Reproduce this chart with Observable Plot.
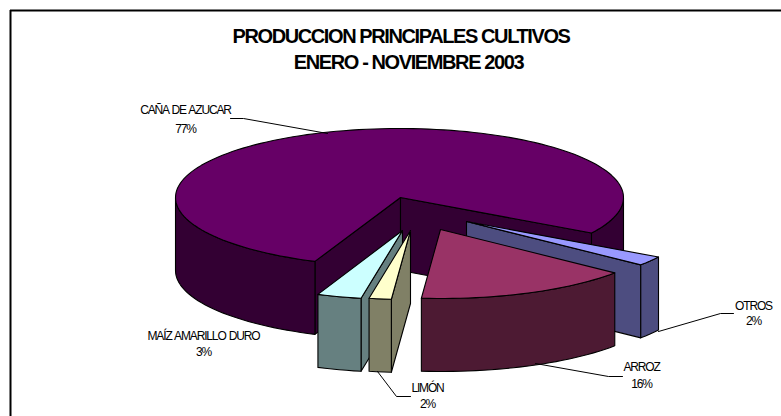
<!DOCTYPE html>
<html><head><meta charset="utf-8">
<style>html,body{margin:0;padding:0;background:#fff}svg{display:block}</style>
<script src="https://cdn.jsdelivr.net/npm/d3@7"></script>
<script src="https://cdn.jsdelivr.net/npm/@observablehq/plot@0.6"></script>
</head><body><div id="chart"></div>
<script>
// Data (clockwise from the first slice after the pie's start angle)
const categories = ["OTROS", "ARROZ", "LIMÓN", "MAÍZ AMARILLO DURO", "CAÑA DE AZUCAR"];
const values = [2.2, 15.55, 1.6, 3.2, 77.45];
const titleLines = ["PRODUCCION PRINCIPALES CULTIVOS", "ENERO - NOVIEMBRE 2003"];

// Styles
const topColors = ["#9999ff", "#993366", "#ffffcc", "#ccffff", "#660066"];
const sideColors = ["#4d4d80", "#4d1a33", "#808066", "#668080", "#330033"];

// Layout: pie projection, in the chart's pixel-like scale units
const pie = {cx: 399, cy: 197, rx: 224, ry: 69, depth: 73, start: 31};
const explodeX = [67, 41, 11, 3, 1];
const explodeY = [24, 32, 33, 33, 0];
const drawOrder = [4, 0, 3, 2, 1];
const titleX = [400.5, 408];
const titleY = [36.5, 62.5];
const labelX = [753, 641, 427, 203, 185];
const labelY = [306, 367, 388, 336, 110];
const percentY = [321, 384, 404, 352, 129];
const leaders = [
  [[658, 331], [720, 313], [733, 313]],
  [[535, 363], [608, 376], [622, 376]],
  [[377, 371], [396, 396], [410, 396]],
  [],
  [[230, 118], [243, 118], [327, 133]]
];

const total = d3.sum(values);
const bounds = d3.cumsum(values).map(v => pie.start + v / total * 360);
const rad = d => d * Math.PI / 180;

function pt(i, deg, z = 0) {
  return {
    x: pie.cx + (i === 4 ? 0 : explodeX[i]) + pie.rx * Math.cos(rad(deg)),
    y: pie.cy + explodeY[i] + pie.ry * Math.sin(rad(deg)) + z
  };
}
function apex(i, z = 0) {
  return {x: pie.cx + explodeX[i], y: pie.cy + explodeY[i] + z};
}
function arc(i, a, b, z = 0) {
  const n = Math.max(1, Math.ceil(Math.abs(b - a) / 2));
  return d3.range(n + 1).map(k => pt(i, a + (b - a) * k / n, z));
}
const poly = (pts, fill) => Plot.line(pts, {
  x: "x", y: "y", fill, stroke: "#000", strokeWidth: 1.1, curve: "linear-closed"
});

function sliceMarks(i) {
  const a = i === 0 ? pie.start : bounds[i - 1];
  const b = bounds[i];
  const side = sideColors[i];
  const out = [];
  const wall = deg => poly([apex(i), pt(i, deg), pt(i, deg, pie.depth), apex(i, pie.depth)], side);
  if (Math.cos(rad(a)) < 0) out.push(wall(a));
  if (Math.cos(rad(b)) > 0) out.push(wall(b));
  // Outer rim: only the front half of the ellipse (0..180 mod 360) faces the viewer
  for (const k of [0, 1]) {
    const lo = Math.max(a, k * 360), hi = Math.min(b, k * 360 + 180);
    if (hi > lo) out.push(poly([...arc(i, lo, hi), ...arc(i, hi, lo, pie.depth)], side));
  }
  out.push(poly([apex(i), ...arc(i, a, b)], topColors[i]));
  return out;
}

const labels = categories.map((name, i) => ({
  name, pct: Math.round(values[i]) + "%", x: labelX[i], y: labelY[i], py: percentY[i]
}));

const chart = Plot.plot({
  width: 781, height: 416,
  margin: 0,
  x: {domain: [0, 781], range: [0, 781], axis: null},
  y: {domain: [0, 416], range: [0, 416], axis: null},
  style: {fontFamily: "'Liberation Sans', Arial, sans-serif", background: "#fff"},
  marks: [
    Plot.ruleY([10], {x1: 10, x2: 781, stroke: "#000", strokeWidth: 2}),
    Plot.ruleX([10], {y1: 10, y2: 416, stroke: "#000", strokeWidth: 2}),
    ...drawOrder.flatMap(sliceMarks),
    ...leaders.filter(l => l.length).map(l => Plot.line(l.map(([x, y]) => ({x, y})), {x: "x", y: "y", stroke: "#000", strokeWidth: 1})),
    Plot.text(titleLines.map((t, i) => ({t, x: titleX[i], y: titleY[i]})), {
      x: "x", y: "y", text: "t", fontSize: 20, fontWeight: "bold", fill: "#000", textAnchor: "middle"
    }),
    Plot.text(labels, {x: "x", y: "y", text: "name", fontSize: 12, fill: "#000", textAnchor: "middle"}),
    Plot.text(labels, {x: "x", y: "py", text: "pct", fontSize: 12, fill: "#000", textAnchor: "middle"})
  ]
});
d3.select(chart).selectAll('g[aria-label="text"]').each(function () {
  const big = +this.getAttribute("font-size") === 20;
  this.style.letterSpacing = big ? "-1.4px" : "-1.15px";
  if (!big) this.style.wordSpacing = "1px";
});
document.getElementById("chart").appendChild(chart);
</script></body></html>
